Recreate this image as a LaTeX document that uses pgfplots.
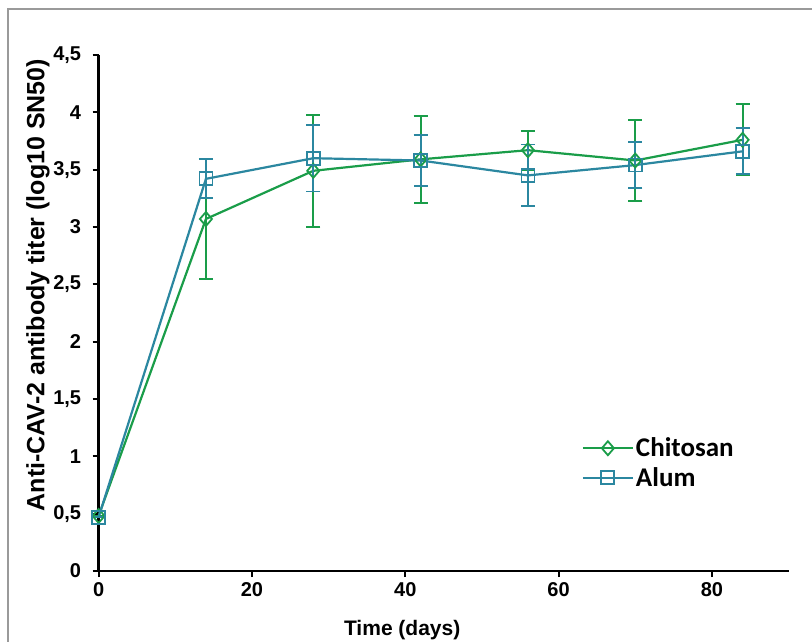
\documentclass[border=0pt]{standalone}
\usepackage{pgfplots}
\pgfplotsset{compat=1.18}
\usepackage{fontspec}
\setmainfont{Liberation Sans}
\newfontfamily\legfont{Carlito}
\definecolor{cgreen}{HTML}{1A9D49}
\definecolor{cblue}{HTML}{2B87A0}
\definecolor{frame}{HTML}{9A9A9A}
\begin{document}
\begin{tikzpicture}
\path[use as bounding box] (0pt,0pt) rectangle (812pt,641pt);
\draw[color=frame, line width=2pt] (8pt,-20pt) -- (8pt,632pt) -- (840pt,632pt);
\begin{axis}[
  at={(98.6pt,70pt)}, anchor=south west,
  scale only axis, width=690pt, height=516pt,
  xmin=0, xmax=90, ymin=0, ymax=4.5,
  axis lines=left, axis line style={line width=2.2pt, black, -},
  xtick={0,20,40,60,80}, ytick={0,0.5,1,1.5,2,2.5,3,3.5,4,4.5},
  tick align=outside, major tick length=6pt,
  tick style={line width=2pt, black},
  /pgf/number format/use comma,
  /pgf/number format/assume math mode=true,
  ticklabel style={font=\bfseries\fontsize{20}{20}\selectfont},
  xticklabel style={yshift=-2pt},
  yticklabel style={xshift=-8pt},
  xlabel={Time (days)},
  ylabel={Anti-CAV-2 antibody titer (log10 SN50)},
  xlabel style={font=\bfseries\fontsize{21}{21}\selectfont, at={(axis description cs:0.44,-0.114)}, anchor=center},
  ylabel style={font=\bfseries\fontsize{25}{25}\selectfont, at={(axis description cs:-0.088,0.554)}, anchor=center, rotate=0},
  clip=false,
  legend style={at={(axis description cs:0.70,0.262)}, anchor=north west, draw=none, fill=none,
    font=\legfont\bfseries\fontsize{27}{27}\selectfont, row sep=5pt, inner sep=0pt},
  legend cell align=left,
  legend image code/.code={\draw[mark repeat=2,mark phase=2,#1] plot coordinates {(0pt,0pt)(25pt,0pt)(50pt,0pt)};},
]
\addplot[color=cgreen, line width=2.2pt, mark=diamond, mark size=7pt,
  mark options={fill=white, line width=1.8pt, xscale=1.15},
  error bars/.cd, y dir=both, y explicit,
  error bar style={line width=1.8pt, color=cgreen},
  error mark options={rotate=90, mark size=7pt, line width=1.8pt, color=cgreen}]
coordinates {
(0,0.48) +- (0,0.0)
(14,3.07) +- (0,0.52)
(28,3.49) +- (0,0.49)
(42,3.59) +- (0,0.38)
(56,3.67) +- (0,0.17)
(70,3.58) +- (0,0.35)
(84,3.76) +- (0,0.31)
};
\addlegendentry{Chitosan}
\addplot[color=cblue, line width=2.2pt, mark=square, mark size=6.5pt,
  mark options={fill=white, line width=1.8pt},
  error bars/.cd, y dir=both, y explicit,
  error bar style={line width=1.8pt, color=cblue},
  error mark options={rotate=90, mark size=7pt, line width=1.8pt, color=cblue}]
coordinates {
(0,0.47) +- (0,0.0)
(14,3.42) +- (0,0.17)
(28,3.60) +- (0,0.29)
(42,3.58) +- (0,0.22)
(56,3.45) +- (0,0.27)
(70,3.54) +- (0,0.20)
(84,3.66) +- (0,0.20)
};
\addlegendentry{Alum}
\end{axis}
\end{tikzpicture}
\end{document}
